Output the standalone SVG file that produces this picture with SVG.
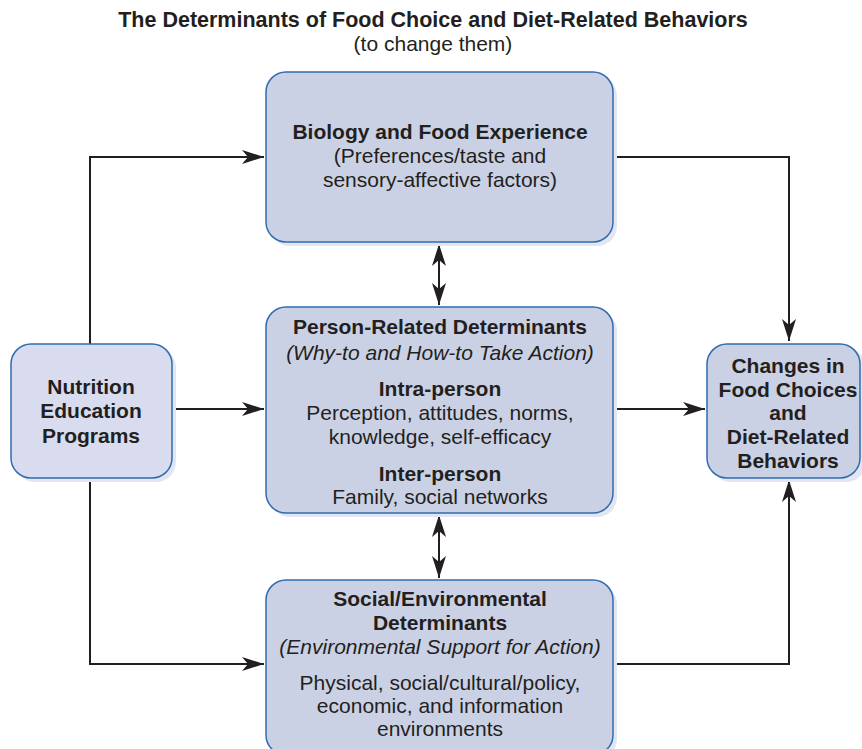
<svg xmlns="http://www.w3.org/2000/svg" width="862" height="749" viewBox="0 0 862 749">
<style>
text{font-family:"Liberation Sans",Arial,sans-serif;fill:#231f20;text-anchor:middle}
.t{font-size:21px}
.b{font-weight:bold}
.i{font-style:italic}
.box{fill:#cbd1e4;stroke:#2f6cb0;stroke-width:1.5}
.lbox{fill:#d8dcee;stroke:#2f6cb0;stroke-width:1.5}
.sh{fill:#e3e6f1}
.c{fill:none;stroke:#231f20;stroke-width:2}
</style>
<defs>
<marker id="ah" viewBox="0 0 22 14" refX="22" refY="7" markerWidth="22" markerHeight="14" markerUnits="userSpaceOnUse" orient="auto-start-reverse">
<path d="M0,0 L22,7 L0,14 L6,7 Z" fill="#231f20"/>
</marker>
</defs>
<g id="title">
<text x="433" y="27" class="b" font-size="21.5">The Determinants of Food Choice and Diet-Related Behaviors</text>
<text x="433" y="51" font-size="21">(to change them)</text>
</g>
<g id="connectors">
<polyline class="c" points="90,344 90,157 264,157" marker-end="url(#ah)"/>
<polyline class="c" points="90,478 90,664 264,664" marker-end="url(#ah)"/>
<line class="c" x1="172" y1="409" x2="264" y2="409" marker-end="url(#ah)"/>
<line class="c" x1="613" y1="409" x2="705" y2="409" marker-end="url(#ah)"/>
<polyline class="c" points="613,157 789,157 789,341" marker-end="url(#ah)"/>
<polyline class="c" points="613,664 789,664 789,480" marker-end="url(#ah)"/>
<line class="c" x1="439" y1="244" x2="439" y2="305" marker-start="url(#ah)" marker-end="url(#ah)"/>
<line class="c" x1="439" y1="515" x2="439" y2="578" marker-start="url(#ah)" marker-end="url(#ah)"/>
</g>
<g id="biology">
<rect class="sh" x="270" y="76" width="347" height="170" rx="20"/>
<rect class="box" x="266" y="72" width="347" height="170" rx="20"/>
<text x="440" y="139" class="t b">Biology and Food Experience</text>
<text x="440" y="163" class="t">(Preferences/taste and</text>
<text x="440" y="187" class="t">sensory-affective factors)</text>
</g>
<g id="person">
<rect class="sh" x="270" y="311" width="347" height="206" rx="20"/>
<rect class="box" x="266" y="307" width="347" height="206" rx="20"/>
<text x="440" y="334" class="t b">Person-Related Determinants</text>
<text x="440" y="360" class="t i">(Why-to and How-to Take Action)</text>
<text x="440" y="396" class="t b">Intra-person</text>
<text x="440" y="420" class="t">Perception, attitudes, norms,</text>
<text x="440" y="444" class="t">knowledge, self-efficacy</text>
<text x="440" y="481" class="t b">Inter-person</text>
<text x="440" y="504" class="t">Family, social networks</text>
</g>
<g id="social">
<rect class="sh" x="270" y="584" width="347" height="175" rx="20"/>
<rect class="box" x="266" y="580" width="347" height="175" rx="20"/>
<text x="440" y="606" class="t b">Social/Environmental</text>
<text x="440" y="630" class="t b">Determinants</text>
<text x="440" y="654" class="t i">(Environmental Support for Action)</text>
<text x="440" y="690" class="t">Physical, social/cultural/policy,</text>
<text x="440" y="713" class="t">economic, and information</text>
<text x="440" y="736" class="t">environments</text>
</g>
<g id="nutrition">
<rect class="sh" x="15" y="348" width="161" height="134" rx="20"/>
<rect class="lbox" x="11" y="344" width="161" height="134" rx="20"/>
<text x="91" y="394" class="t b">Nutrition</text>
<text x="91" y="418" class="t b">Education</text>
<text x="91" y="443" class="t b">Programs</text>
</g>
<g id="changes">
<rect class="sh" x="711" y="348" width="155" height="134" rx="20"/>
<rect class="box" x="707" y="344" width="153" height="134" rx="20"/>
<text x="788" y="373" class="t b">Changes in</text>
<text x="788" y="397" class="t b">Food Choices</text>
<text x="788" y="420" class="t b">and</text>
<text x="788" y="444" class="t b">Diet-Related</text>
<text x="788" y="468" class="t b">Behaviors</text>
</g>
</svg>
